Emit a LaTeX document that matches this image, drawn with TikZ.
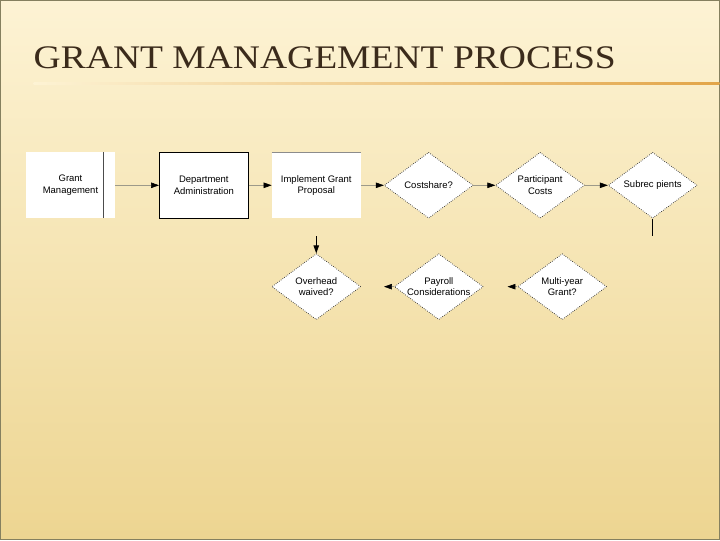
\documentclass[tikz,border=0pt]{standalone}
\usepackage{graphicx}
\usepackage{fontspec}
\setmainfont{Liberation Serif}
\newfontfamily\chartfont{Liberation Sans}
\usetikzlibrary{arrows.meta,positioning,shapes.geometric}
\definecolor{slidetop}{HTML}{FDF3D4}
\definecolor{slidemid}{HTML}{F8E8B9}
\definecolor{slidelow}{HTML}{EDD591}
\definecolor{titlebrown}{HTML}{3B2B1B}
\definecolor{ruleline}{HTML}{E2A548}
\definecolor{connector}{HTML}{9D9A8A}
\definecolor{framegray}{HTML}{85805F}

\begin{document}
\begin{tikzpicture}[x=1pt,y=-1pt,
  box/.style={fill=white,minimum width=89pt,minimum height=66pt,inner sep=2pt,
              font=\chartfont\fontsize{9.5}{11.5}\selectfont,align=center},
  decision/.style={diamond,aspect=1.35,draw=black!85,line width=0.7pt,dash pattern=on 0.7pt off 1.4pt,
              fill=white,minimum width=89pt,minimum height=66pt,inner sep=0pt,
              font=\chartfont\fontsize{9.5}{11.5}\selectfont,align=center},
  arr/.style={draw=connector,line width=0.6pt,-{Triangle[length=8pt,width=5.5pt,color=black,fill=black]}},
  stub/.style={draw=black,line width=0.8pt},
  node distance=23pt
]
% slide background
\shade[top color=slidetop,middle color=slidemid,bottom color=slidelow] (0,0) rectangle (720,540);
\draw[framegray,line width=1.2pt] (0,0) rectangle (720,540);
\useasboundingbox (0,0) rectangle (720,540);

% title
\node[anchor=base west,inner sep=0pt,text=titlebrown,font=\fontsize{33}{33}\selectfont] (title) at (33,68)
  {\scalebox{1.14}[1]{GRANT MANAGEMENT PROCESS}};
\shade[left color=slidetop,right color=ruleline] (33,82.5) rectangle (720,84);

% top row
\node[box] (gm) at (70,185) {Grant\\Management};
\draw[black!70,line width=0.8pt] ([xshift=-12pt]gm.north east) -- ([xshift=-12pt]gm.south east);
\node[box,draw=black,line width=0.8pt,right=44pt of gm] (da) {Department\\Administration};
\node[box,right=of da] (ig) {Implement Grant\\Proposal};
\draw[black!45,line width=0.6pt] (ig.north west) -- (ig.north east);
\node[decision,right=of ig] (cs) {Costshare?};
\node[decision,right=22pt of cs] (pc) {Participant\\Costs};
\node[decision,right=of pc] (sr) {Subrec pients};

% bottom row
\node[decision,below=35pt of ig] (ow) {Overhead\\waived?};
\node[decision,right=33pt of ow] (py) {Payroll\\Considerations};
\node[decision,right=34pt of py] (my) {Multi-year\\Grant?};

% free ends
\coordinate (igdrop) at ([yshift=-18pt]ig.south);
\coordinate (srdrop) at ([yshift=-17pt]sr.south);
\coordinate (pyend) at ([xshift=-10pt]py.west);
\coordinate (myend) at ([xshift=-10pt]my.west);

% connectors
\draw[arr] (gm) -- (da);
\draw[arr] (da) -- (ig);
\draw[arr] (ig) -- (cs);
\draw[arr] (cs) -- (pc);
\draw[arr] (pc) -- (sr);
\draw[stub] (sr.south) -- (srdrop);
\draw[stub,-{Triangle[length=8pt,width=5.5pt]}] (igdrop) -- (ow.north);
\draw[arr] (py.west) -- (pyend);
\draw[arr] (my.west) -- (myend);
\end{tikzpicture}
\end{document}
